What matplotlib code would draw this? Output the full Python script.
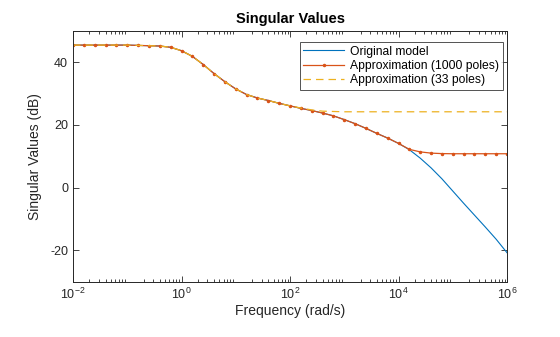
import numpy as np
import matplotlib
matplotlib.use("Agg")
import matplotlib.pyplot as plt
from matplotlib.ticker import LogLocator, NullFormatter, FixedLocator

plt.rcParams['font.family'] = ['Liberation Sans', 'DejaVu Sans']
plt.rcParams['mathtext.fontset'] = 'custom'
plt.rcParams['mathtext.rm'] = 'Liberation Sans'
plt.rcParams['mathtext.it'] = 'Liberation Sans:italic'
plt.rcParams['axes.unicode_minus'] = False

# Frequency grid (rad/s), 0.2 decade spacing from 1e-2 to 1e6
freq_exponents = [-2.0, -1.8, -1.6, -1.4, -1.2, -1.0, -0.8, -0.6, -0.4, -0.2,
                  0.0, 0.2, 0.4, 0.6, 0.8, 1.0, 1.2, 1.4, 1.6, 1.8,
                  2.0, 2.2, 2.4, 2.6, 2.8, 3.0, 3.2, 3.4, 3.6, 3.8,
                  4.0, 4.2, 4.4, 4.6, 4.8, 5.0, 5.2, 5.4, 5.6, 5.8, 6.0]

# Singular values in dB
sv_original = [45.5, 45.5, 45.5, 45.5, 45.5, 45.5, 45.4, 45.3, 45.2, 44.8,
               43.7, 41.9, 39.3, 36.4, 33.8, 31.5, 29.7, 28.6, 27.8, 26.9,
               26.1, 25.3, 24.6, 23.8, 22.9, 21.7, 20.4, 18.9, 17.3, 15.8,
               14.1, 12.1, 9.4, 6.3, 2.8, -1.1, -5.0, -8.8, -12.6, -16.5, -20.8]

sv_1000 = [45.5, 45.5, 45.5, 45.5, 45.5, 45.5, 45.4, 45.3, 45.2, 44.8,
           43.7, 41.9, 39.3, 36.4, 33.8, 31.5, 29.7, 28.6, 27.8, 26.9,
           26.1, 25.3, 24.6, 23.8, 22.9, 21.7, 20.4, 18.9, 17.3, 15.8,
           14.1, 12.2, 11.4, 11.0, 10.85, 10.8, 10.8, 10.8, 10.8, 10.8, 10.8]

sv_33 = [45.5, 45.5, 45.5, 45.5, 45.5, 45.5, 45.4, 45.3, 45.2, 44.8,
         43.7, 41.9, 39.3, 36.4, 33.8, 31.5, 29.7, 28.6, 27.8, 26.9,
         26.1, 25.4, 24.8, 24.4, 24.3, 24.2, 24.2, 24.2, 24.2, 24.2,
         24.2, 24.2, 24.2, 24.2, 24.2, 24.2, 24.2, 24.2, 24.2, 24.2, 24.2]

freq = 10.0 ** np.array(freq_exponents)

c_blue = '#0072BD'
c_orange = '#D95319'
c_yellow = '#EDB120'
c_axis = '#262626'

fig = plt.figure(figsize=(5.6, 3.37), dpi=100)
ax = fig.add_axes([73 / 560, 1 - 281.5 / 337, 434 / 560, 250.5 / 337])

ax.semilogx(freq, sv_original, color=c_blue, lw=0.8, label='Original model')
ax.semilogx(freq, sv_1000, color=c_orange, lw=0.9, marker='.', ms=3,
            label='Approximation (1000 poles)')
ax.semilogx(freq, sv_33, color=c_yellow, lw=0.9, ls=(0, (6, 4)),
            label='Approximation (33 poles)')

ax.set_xlim(1e-2, 1e6)
ax.set_ylim(-30, 50)
ax.xaxis.set_major_locator(FixedLocator([1e-2, 1e0, 1e2, 1e4, 1e6]))
ax.xaxis.set_minor_locator(LogLocator(base=10, subs=np.arange(2, 10), numticks=20))
ax.xaxis.set_minor_formatter(NullFormatter())
ax.set_yticks([-20, 0, 20, 40])

ax.tick_params(which='both', direction='in', top=True, right=True,
               colors=c_axis, labelsize=9, width=0.6)
ax.tick_params(which='major', length=4)
ax.tick_params(which='minor', length=2)
for s in ax.spines.values():
    s.set_color(c_axis)
    s.set_linewidth(0.7)

ax.set_xlabel('Frequency (rad/s)', fontsize=10, color=c_axis, labelpad=2)
ax.set_ylabel('Singular Values (dB)', fontsize=10, color=c_axis, labelpad=6)
ax.set_title('Singular Values', fontsize=10.5, fontweight='bold', color='black', pad=6)

leg = ax.legend(loc='upper right', bbox_to_anchor=(0.991, 0.956), fontsize=8.7,
                frameon=True, fancybox=False, handlelength=3.4, numpoints=1,
                borderaxespad=0, borderpad=0.3, labelspacing=0.2,
                handletextpad=0.5)
leg.get_frame().set_edgecolor(c_axis)
leg.get_frame().set_linewidth(0.7)

fig.savefig('out.png', dpi=100)
